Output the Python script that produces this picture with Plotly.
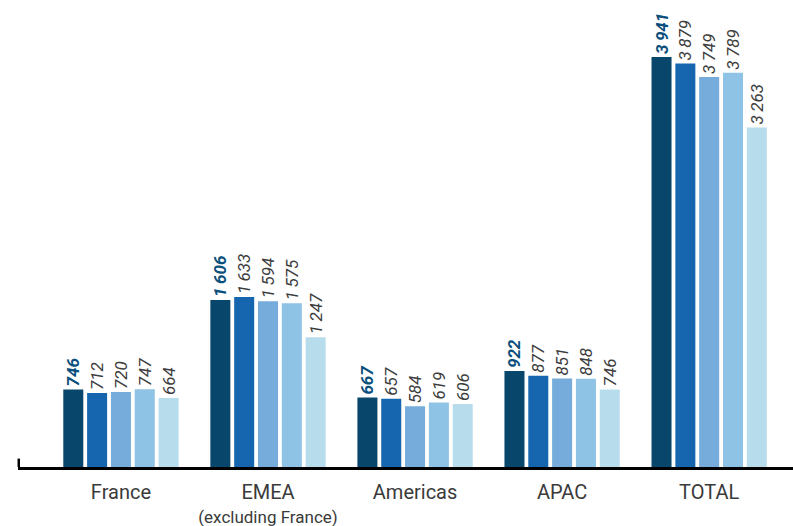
import plotly.graph_objects as go

categories = ["France", "EMEA", "Americas", "APAC", "TOTAL"]
subtitles = ["", "(excluding France)", "", "", ""]
series_names = ["S1", "S2", "S3", "S4", "S5"]
values = [
    [746, 1606, 667, 922, 3941],
    [712, 1633, 657, 877, 3879],
    [720, 1594, 584, 851, 3749],
    [747, 1575, 619, 848, 3789],
    [664, 1247, 606, 746, 3263],
]
colors = ["#08466c", "#1566ae", "#75acdc", "#8fc3e6", "#b7dceb"]

def fmt(v):
    return f"{v:,}".replace(",", "\u2009")

def ticklabel(c, s):
    t = f"<span style='font-size:20px'>{c}</span>"
    if s:
        t += f"<br><span style='font-size:17px'>{s}</span>"
    return t

fig = go.Figure()
for i, (name, vals) in enumerate(zip(series_names, values)):
    first = i == 0
    fig.add_trace(go.Bar(
        x=list(range(len(categories))), y=vals, name=name,
        marker=dict(color=colors[i], line=dict(width=0)),
        text=[fmt(v) for v in vals],
        textposition="outside", textangle=-90, cliponaxis=False,
        constraintext="none",
        textfont=dict(family="Roboto", size=17,
                      color="#0b4f7c" if first else "#3d3d3d",
                      style="italic", weight="bold" if first else "normal"),
    ))

fig.update_layout(
    width=793, height=526, barmode="group", bargap=0.19, bargroupgap=0.16,
    showlegend=False, plot_bgcolor="white", paper_bgcolor="white",
    margin=dict(l=18, r=0, t=0, b=59, autoexpand=False),
    uniformtext=dict(minsize=17, mode="show"),
    xaxis=dict(range=[-0.7, 4.57], tickmode="array", tickvals=list(range(5)),
               ticktext=[ticklabel(c, s) for c, s in zip(categories, subtitles)],
               showline=True, linecolor="black", linewidth=2.5,
               ticks="outside", ticklen=7, tickcolor="rgba(0,0,0,0)",
               showgrid=False, zeroline=False, automargin=False,
               tickfont=dict(family="Roboto", size=18.5, color="#3a3a3a")),
    yaxis=dict(range=[0, 4489], visible=False, showgrid=False, automargin=False),
    shapes=[dict(type="line", xref="paper", yref="paper", x0=0.001, x1=0.001, y0=0, y1=0.018,
                 line=dict(color="black", width=2.5))],
)
fig.write_html("out.html")
